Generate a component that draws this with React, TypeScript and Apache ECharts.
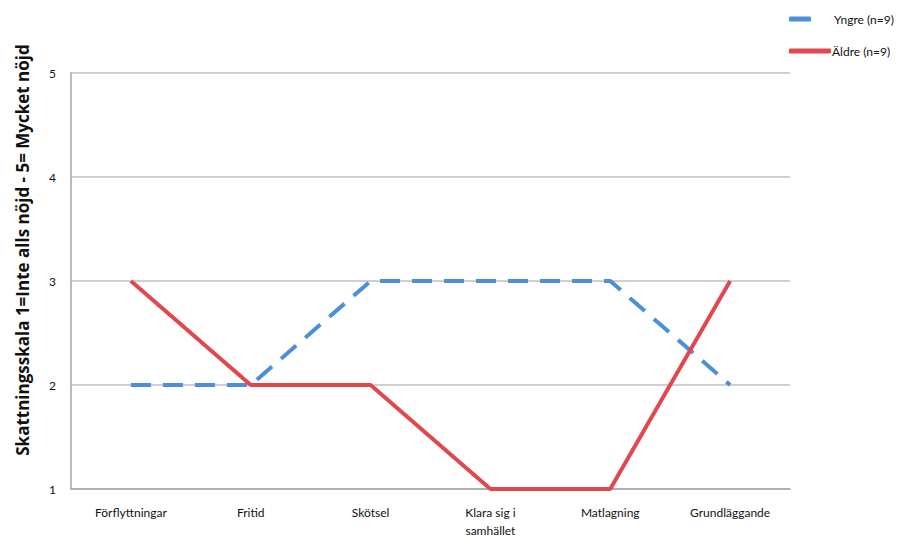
import React, { useEffect, useRef } from "react";
import * as echarts from "echarts";

const categories = ["Förflyttningar", "Fritid", "Skötsel", "Klara sig i\nsamhället", "Matlagning", "Grundläggande"];
const yngre = [2, 2, 3, 3, 3, 2];
const aldre = [3, 2, 2, 1, 1, 3];
const seriesNames = ["Yngre (n=9)", "Äldre (n=9)"];
const yTitle = "Skattningsskala 1=Inte alls nöjd - 5= Mycket nöjd";

const FONT = "Lato, 'Open Sans', sans-serif";
const BLUE = "#4A8FD8";
const RED = "#E0484E";

export default function App() {
  const ref = useRef<HTMLDivElement>(null);
  useEffect(() => {
    const chart = echarts.init(ref.current!, null, { renderer: "svg" });
    chart.setOption({
      animation: false,
      textStyle: { fontFamily: FONT },
      legend: [
        {
          data: [{ name: seriesNames[0], icon: "roundRect", itemStyle: { color: BLUE } }],
          left: 784,
          top: 8,
          itemWidth: 22,
          itemHeight: 5,
          textStyle: { fontSize: 12, color: "#111", fontFamily: FONT, padding: [0, 0, 0, 18] },
        },
        {
          data: [{ name: seriesNames[1], icon: "roundRect", itemStyle: { color: RED } }],
          left: 784,
          top: 40,
          itemWidth: 42,
          itemHeight: 5,
          textStyle: { fontSize: 12, color: "#111", fontFamily: FONT, padding: [0, 0, 0, -4] },
        },
      ],
      grid: { left: 71, right: 109, top: 73, bottom: 45, containLabel: false },
      graphic: [
        {
          type: "text",
          x: 22,
          y: 250,
          rotation: Math.PI / 2,
          style: {
            text: yTitle,
            fontSize: 17,
            fontWeight: "bold",
            fontFamily: "'Open Sans', sans-serif",
            fill: "#111",
            align: "center",
            verticalAlign: "middle",
          },
        },
      ],
      xAxis: {
        type: "category",
        data: categories,
        boundaryGap: true,
        axisLine: { lineStyle: { color: "#a6a6a6", width: 1.5 } },
        axisTick: { show: false },
        axisLabel: { color: "#111", fontSize: 12, margin: 14, lineHeight: 18, fontFamily: FONT, interval: 0 },
      },
      yAxis: {
        type: "value",
        min: 1,
        max: 5,
        interval: 1,
        axisLine: { show: true, lineStyle: { color: "#a6a6a6", width: 1.5 } },
        axisTick: { show: false },
        splitLine: { lineStyle: { color: "#bfbfbf", width: 1.5 } },
        axisLabel: { color: "#111", fontSize: 12, margin: 15, fontFamily: FONT, padding: [6, 0, 0, 0] },
      },
      series: [
        {
          name: seriesNames[0],
          type: "line",
          data: yngre,
          symbol: "none",
          lineStyle: { color: BLUE, width: 4, type: [20, 12] },
          itemStyle: { color: BLUE },
        },
        {
          name: seriesNames[1],
          type: "line",
          data: aldre,
          symbol: "none",
          lineStyle: { color: RED, width: 4 },
          itemStyle: { color: RED },
        },
      ],
    });
    return () => chart.dispose();
  }, []);
  return <div ref={ref} style={{ width: 899, height: 539, position: "absolute", left: 0, top: 0 }} />;
}
